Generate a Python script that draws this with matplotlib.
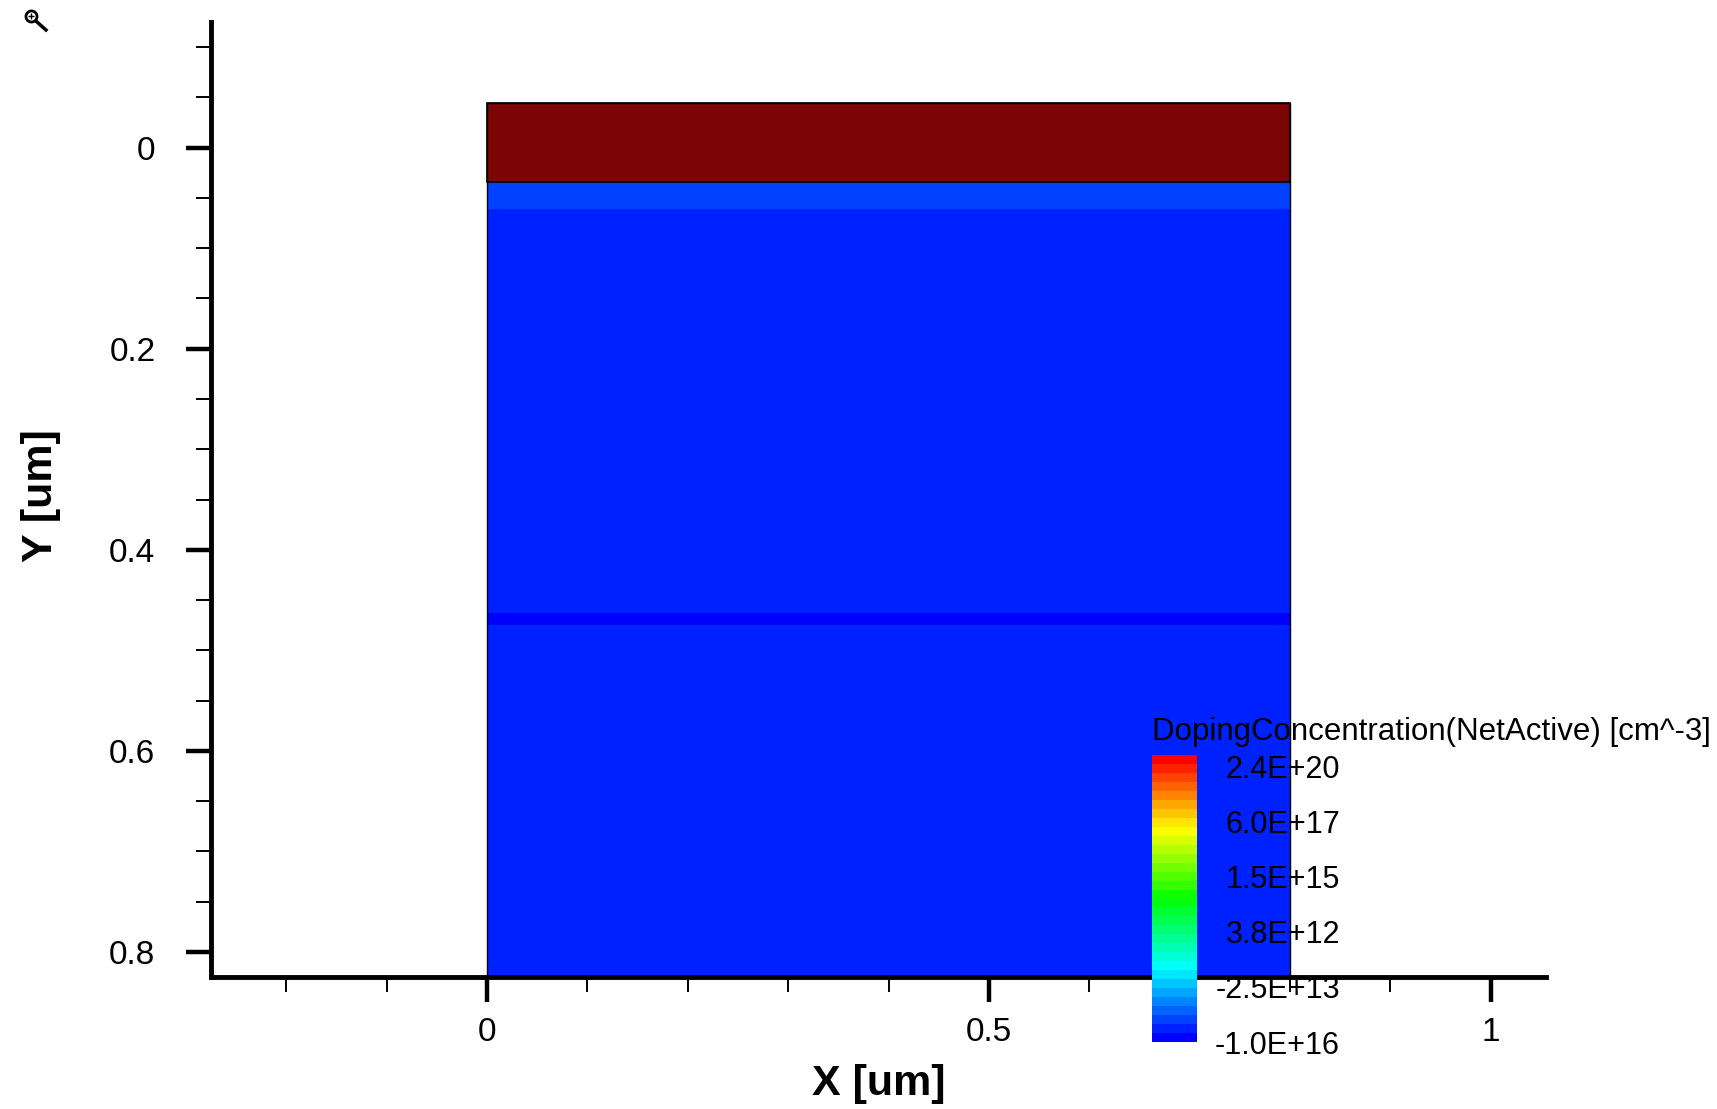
import matplotlib
matplotlib.use("Agg")
import matplotlib.pyplot as plt
import numpy as np
from matplotlib.colors import LinearSegmentedColormap
from matplotlib.lines import Line2D
from matplotlib.ticker import MultipleLocator

plt.rcParams["font.family"] = ["Liberation Sans", "DejaVu Sans"]

# device geometry (um)
DEVICE_X = [0.0, 0.8]
OXIDE_TOP = -0.044
OXIDE_BOTTOM = 0.034
# silicon layers: y edges and colour level index in the 32-step legend
SI_EDGES_Y = [0.034, 0.061, 0.463, 0.475, 0.825]
SI_LEVELS = [2, 1, 0, 1]
N_LEVELS = 32

CBAR_TITLE = "DopingConcentration(NetActive) [cm^-3]"
CBAR_LABELS = ["2.4E+20", "6.0E+17", "1.5E+15", "3.8E+12", "-2.5E+13", "-1.0E+16"]

X_LIM = (-0.275, 1.055)
Y_LIM = (0.825, -0.125)
X_MAJOR = [0, 0.5, 1]
X_MAJOR_LABELS = ["0", "0.5", "1"]
Y_MAJOR = [0, 0.2, 0.4, 0.6, 0.8]
Y_MAJOR_LABELS = ["0", "0.2", "0.4", "0.6", "0.8"]

OXIDE_COLOR = "#7d0505"
cmap = LinearSegmentedColormap.from_list(
    "doping", ["#0000ff", "#00ffff", "#00ff00", "#ffff00", "#ff0000"], N=N_LEVELS
)

W, H = 1717, 1109
fig = plt.figure(figsize=(W / 100, H / 100), dpi=100)
ax = fig.add_axes([211 / W, 1 - 977 / H, 1335 / W, 955 / H])

# silicon
mesh = ax.pcolormesh(
    DEVICE_X, SI_EDGES_Y, np.array(SI_LEVELS)[:, None],
    cmap=cmap, vmin=-0.5, vmax=N_LEVELS - 0.5, antialiased=False,
)
# oxide
ax.bar(DEVICE_X[0], OXIDE_BOTTOM - OXIDE_TOP, bottom=OXIDE_TOP,
       width=DEVICE_X[1] - DEVICE_X[0], align="edge",
       color=OXIDE_COLOR, edgecolor="black", linewidth=1.2, zorder=3)
# device outline
ax.bar(DEVICE_X[0], SI_EDGES_Y[-1] - OXIDE_TOP, bottom=OXIDE_TOP,
       width=DEVICE_X[1] - DEVICE_X[0], align="edge",
       fill=False, edgecolor="black", linewidth=1.0, zorder=3)

ax.set_xlim(*X_LIM)
ax.set_ylim(*Y_LIM)
for s in ["top", "right"]:
    ax.spines[s].set_visible(False)
for s in ["left", "bottom"]:
    ax.spines[s].set_linewidth(3.5)
    ax.spines[s].set_capstyle("projecting")
    ax.spines[s].set_zorder(4)

ax.set_xticks(X_MAJOR, X_MAJOR_LABELS)
ax.set_yticks(Y_MAJOR, Y_MAJOR_LABELS)
ax.xaxis.set_minor_locator(MultipleLocator(0.1))
ax.yaxis.set_minor_locator(MultipleLocator(0.05))
ax.tick_params(which="major", direction="out", length=18, width=3.2, labelsize=24)
ax.tick_params(which="minor", direction="out", length=11, width=1.4)
ax.tick_params(axis="x", which="major", pad=11)
ax.tick_params(axis="y", which="major", pad=22)

ax.set_xlabel("X [um]", fontsize=31, fontweight="bold")
ax.set_ylabel("Y [um]", fontsize=31, fontweight="bold")
ax.xaxis.set_label_coords(0.5, -0.112)
ax.xaxis.label.set_va("center")
ax.yaxis.set_label_coords(-0.1275, 0.504)
ax.yaxis.label.set_va("center")

# legend colour bar
cax = fig.add_axes([1152 / W, 1 - 1042 / H, 45 / W, 287 / H])
cbar = fig.colorbar(mesh, cax=cax)
cbar.outline.set_visible(False)
cbar.set_ticks(np.linspace(30.2, -0.5, len(CBAR_LABELS)), labels=CBAR_LABELS)
cax.tick_params(length=0, labelsize=22, pad=103)
for t in cax.get_yticklabels():
    t.set_ha("right")
fig.text(1152 / W, 1 - 732 / H, CBAR_TITLE, fontsize=22.5, va="center", ha="left")

# zoom icon in the corner
fig.add_artist(Line2D([37 / W, 46 / W], [1 - 22 / H, 1 - 30 / H],
                      transform=fig.transFigure, color="black", linewidth=2.5))
fig.add_artist(Line2D([31 / W], [1 - 16 / H], transform=fig.transFigure,
                      marker="o", markersize=8, markerfacecolor="white",
                      markeredgecolor="black", markeredgewidth=2))
fig.add_artist(Line2D([31 / W], [1 - 16 / H], transform=fig.transFigure,
                      marker="+", markersize=4, color="black", markeredgewidth=1))

fig.savefig("out.png", dpi=100)
